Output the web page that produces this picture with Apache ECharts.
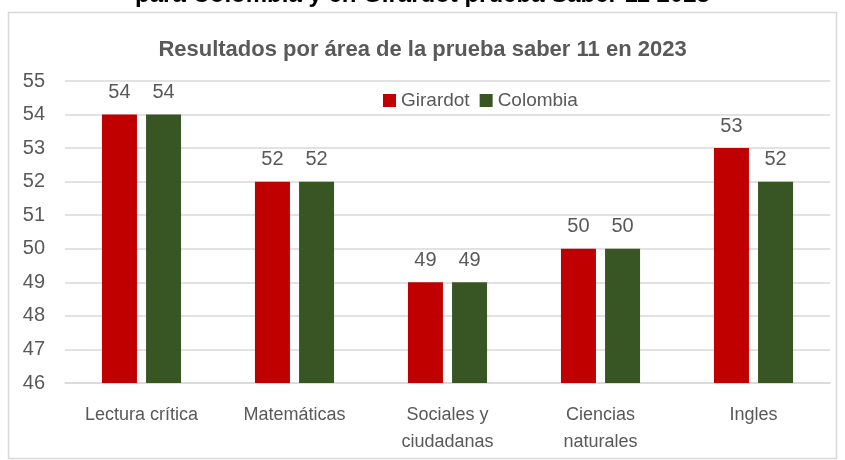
<!DOCTYPE html>
<html>
<head>
<meta charset="utf-8">
<script src="https://cdn.jsdelivr.net/npm/echarts@6/dist/echarts.min.js"></script>
<style>
  html, body { margin: 0; padding: 0; background: #fff; }
  #chart { width: 845px; height: 460px; }
</style>
</head>
<body>
<div id="chart"></div>
<script>
// datos prueba saber 11
const categories = ['Lectura crítica', 'Matemáticas', 'Sociales y\nciudadanas', 'Ciencias\nnaturales', 'Ingles']
const girardot = [54, 52, 49, 50, 53]
const colombia = [54, 52, 49, 50, 52]

const font = '"Liberation Sans Narrow", "Arial Narrow", "Liberation Sans", sans-serif'
const gray = '#595959'

const myChart = echarts.init(document.getElementById('chart'))
const option = {
  animation: false,
  textStyle: { fontFamily: font },
  graphic: [
    {
      type: 'rect',
      shape: { x: 8.5, y: 12.5, width: 828, height: 446 },
      style: { fill: 'none', stroke: '#d9d9d9', lineWidth: 1.5 }
    },
    {
      type: 'text',
      left: 'center',
      top: -17,
      style: { text: 'para Colombia y en Girardot prueba Saber 11 2023', fill: '#000', font: 'bold 24px "Liberation Sans", sans-serif' }
    }
  ],
  title: {
    text: 'Resultados por área de la prueba saber 11 en 2023',
    left: 'center',
    top: 34,
    textStyle: { color: gray, fontSize: 22, fontWeight: 'bold', fontFamily: '"Liberation Sans", Arial, sans-serif' }
  },
  legend: {
    data: ['Girardot', 'Colombia'],
    left: 378,
    top: 86,
    itemWidth: 13,
    itemHeight: 13,
    itemGap: 10,
    icon: 'rect',
    textStyle: { color: gray, fontSize: 19, fontFamily: font }
  },
  grid: {
    left: 65,
    right: 15,
    top: 81,
    bottom: 77
  },
  xAxis: {
    type: 'category',
    data: categories,
    axisTick: { show: false },
    axisLine: { lineStyle: { color: '#d9d9d9', width: 1.5 } },
    axisLabel: { color: gray, fontSize: 18, margin: 19, lineHeight: 27, fontFamily: font }
  },
  yAxis: {
    type: 'value',
    min: 46,
    max: 55,
    interval: 1,
    axisLabel: { color: gray, fontSize: 20, margin: 20, fontFamily: font },
    splitLine: { lineStyle: { color: '#d9d9d9', width: 1.5 } },
    axisLine: { show: false },
    axisTick: { show: false }
  },
  series: [
    {
      name: 'Girardot',
      type: 'bar',
      data: girardot,
      barWidth: 35,
      barGap: '26%',
      itemStyle: { color: '#c00000' },
      label: { show: true, position: 'top', distance: 12, color: gray, fontSize: 20, fontFamily: font }
    },
    {
      name: 'Colombia',
      type: 'bar',
      data: colombia,
      barWidth: 35,
      itemStyle: { color: '#375623' },
      label: { show: true, position: 'top', distance: 12, color: gray, fontSize: 20, fontFamily: font }
    }
  ]
}
myChart.setOption(option)
</script>
</body>
</html>
